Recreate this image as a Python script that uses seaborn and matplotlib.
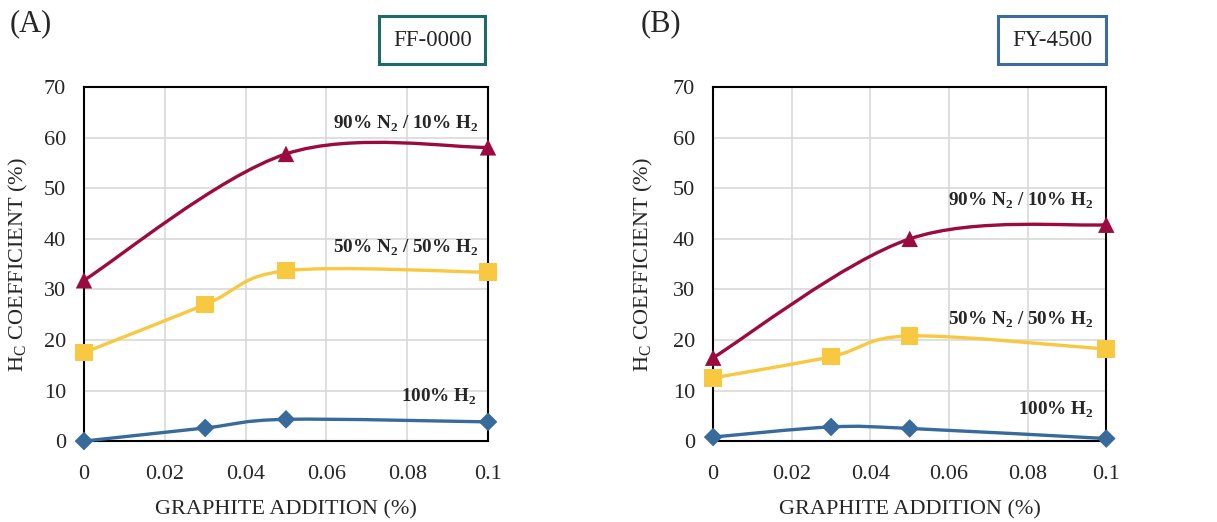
import numpy as np
import pandas as pd
import matplotlib
matplotlib.use('Agg')
import matplotlib.pyplot as plt
import seaborn as sns
from matplotlib.path import Path
from matplotlib.patches import PathPatch

# --------------
# Data
# --------------
graphite = [0, 0.03, 0.05, 0.1]

ff_9010 = [31.8, np.nan, 56.8, 58.1]
ff_5050 = [17.5, 27.0, 33.7, 33.4]
ff_h2 = [0.0, 2.6, 4.3, 3.8]

fy_9010 = [16.5, np.nan, 40.0, 42.8]
fy_5050 = [12.5, 16.7, 20.8, 18.2]
fy_h2 = [0.8, 2.8, 2.5, 0.5]

atmospheres = ['90% N$_\\mathbf{2}$ / 10% H$_\\mathbf{2}$',
               '50% N$_\\mathbf{2}$ / 50% H$_\\mathbf{2}$',
               '100% H$_\\mathbf{2}$']
colors = ['#9b0b3f', '#f7c840', '#386a9c']
markers = ['^', 's', 'D']
msizes = [140, 160, 90]

sns.set_style('white')
plt.rcParams['font.family'] = ['Liberation Serif', 'DejaVu Serif']
plt.rcParams['mathtext.fontset'] = 'custom'
plt.rcParams['mathtext.rm'] = 'Liberation Serif'
plt.rcParams['mathtext.bf'] = 'Liberation Serif:bold'


def smooth_path(xs, ys):
    # Excel-like smoothed line: cubic bezier through the points
    pts = [(x, y) for x, y in zip(xs, ys) if not np.isnan(y)]
    pts = np.array(pts, dtype=float)
    n = len(pts)
    verts = [tuple(pts[0])]
    codes = [Path.MOVETO]
    for i in range(n - 1):
        p0 = pts[max(i - 1, 0)]
        p1 = pts[i]
        p2 = pts[i + 1]
        p3 = pts[min(i + 2, n - 1)]
        c1 = p1 + (p2 - p0) / 6.0
        c2 = p2 - (p3 - p1) / 6.0
        verts += [tuple(c1), tuple(c2), tuple(p2)]
        codes += [Path.CURVE4] * 3
    return Path(verts, codes)


def draw_panel(ax, series, labels_pos, letter, box_text, box_color, ylab_x):
    for k, ys in enumerate(series):
        df = pd.DataFrame({'x': graphite, 'y': ys}).dropna()
        # rescale to keep the bezier shape in screen proportions
        sx, sy = 1.0 / 0.1, 1.0 / 70.0
        p = smooth_path(np.array(graphite) * sx, np.array(ys) * sy)
        verts = p.vertices / np.array([sx, sy])
        patch = PathPatch(Path(verts, p.codes), facecolor='none',
                          edgecolor=colors[k], lw=2.4, transform=ax.transData,
                          clip_on=False, zorder=3)
        ax.add_patch(patch)
        sns.scatterplot(data=df, x='x', y='y', ax=ax, marker=markers[k],
                        color=colors[k], s=msizes[k], edgecolor='none',
                        clip_on=False, zorder=4, legend=False)
        tx, ty = labels_pos[k]
        ax.text(tx, ty, atmospheres[k], ha='right', va='center',
                fontsize=13.8, fontweight='bold')

    ax.set_xlim(0, 0.1)
    ax.set_ylim(0, 70)
    ax.set_xticks([0, 0.02, 0.04, 0.06, 0.08, 0.1])
    ax.set_xticklabels(['0', '0.02', '0.04', '0.06', '0.08', '0.1'])
    ax.set_yticks(range(0, 71, 10))
    ax.grid(True, color='#d9d9d9', lw=1.2)
    ax.set_axisbelow(True)
    for sp in ax.spines.values():
        sp.set_color('black')
        sp.set_linewidth(1.5)
    ax.tick_params(axis='x', direction='in', length=5, width=1.2,
                   labelsize=16, pad=17)
    ax.tick_params(axis='y', direction='in', length=5, width=1.2,
                   labelsize=16, pad=13)
    ax.set_xlabel('GRAPHITE ADDITION (%)', fontsize=16, labelpad=12)
    ax.set_ylabel('H$_\\mathrm{C}$ COEFFICIENT (%)', fontsize=16)
    ax.yaxis.set_label_coords(ylab_x, 0.5)
    ax.text(-0.185, 1.18, letter, transform=ax.transAxes, fontsize=22,
            ha='left', va='center')
    ax.text(0.862, 1.133, box_text, transform=ax.transAxes, fontsize=16.5,
            ha='center', va='center',
            bbox=dict(boxstyle='square,pad=0.6', facecolor='white',
                      edgecolor=box_color, linewidth=2.2))


fig = plt.figure(figsize=(12.17, 5.22), dpi=100)
ax1 = fig.add_axes([0.069, 0.155, 0.332, 0.678])
ax2 = fig.add_axes([0.586, 0.155, 0.323, 0.678])

draw_panel(ax1, [ff_9010, ff_5050, ff_h2],
           [(0.0975, 62.8), (0.0975, 38.3), (0.0972, 8.7)],
           '(A)', 'FF-0000', '#1e6b66', -0.134)
draw_panel(ax2, [fy_9010, fy_5050, fy_h2],
           [(0.0968, 47.6), (0.0968, 23.9), (0.0968, 6.1)],
           '(B)', 'FY-4500', '#3d6b9a', -0.148)

plt.savefig('out.png', dpi=100)
plt.close()
